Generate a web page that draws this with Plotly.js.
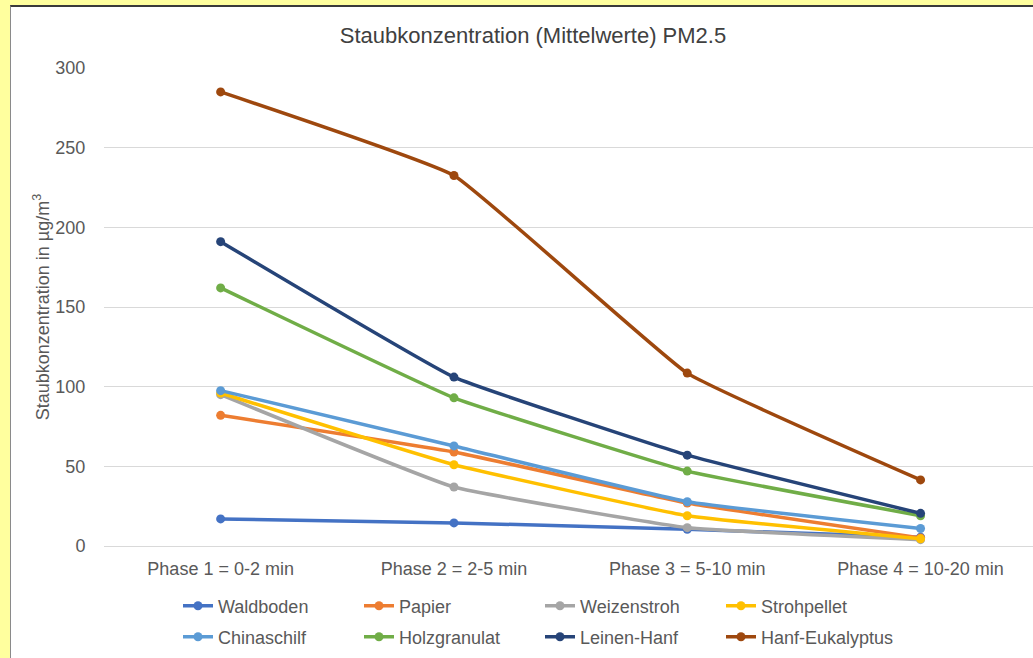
<!DOCTYPE html>
<html>
<head>
<meta charset="utf-8">
<script src="https://cdn.plot.ly/plotly-3.0.1.min.js"></script>
<style>
  html, body { margin: 0; padding: 0; width: 1033px; height: 658px; overflow: hidden; background: #FFFF9E; }
  #frame { position: absolute; left: 10px; top: 5px; width: 1023px; height: 653px; background: #ffffff;
           border-left: 1px solid #8a8a8a; border-top: 2px solid #3a3a3a; box-sizing: border-box; }
  #chart { position: absolute; left: 0; top: 0; width: 1033px; height: 658px; }
</style>
</head>
<body>
<div id="frame"></div>
<div id="chart"></div>
<script>
const phases = ["Phase 1 = 0-2 min", "Phase 2 = 2-5 min", "Phase 3 = 5-10 min", "Phase 4 = 10-20 min"];

const waldboden      = [17, 14.5, 10.5, 5.5];
const papier         = [82, 59, 27, 5];
const weizenstroh    = [95, 37, 11.5, 4];
const strohpellet    = [96, 51, 19, 4.5];
const chinaschilf    = [97.5, 62.8, 27.8, 11];
const holzgranulat   = [162, 93, 47, 19];
const leinenHanf     = [191, 106, 57, 20.5];
const hanfEukalyptus = [285, 232.5, 108.5, 41.5];

const seriesNames = ["Waldboden", "Papier", "Weizenstroh", "Strohpellet",
                     "Chinaschilf", "Holzgranulat", "Leinen-Hanf", "Hanf-Eukalyptus"];
const seriesValues = [waldboden, papier, weizenstroh, strohpellet,
                      chinaschilf, holzgranulat, leinenHanf, hanfEukalyptus];
const seriesColors = ["#4472C4", "#ED7D31", "#A5A5A5", "#FFC000",
                      "#5B9BD5", "#70AD47", "#264478", "#9E480E"];

const traces = seriesNames.map((name, i) => ({
  type: "scatter",
  mode: "lines+markers",
  name: name,
  x: phases,
  y: seriesValues[i],
  line: { color: seriesColors[i], width: 3.5, shape: "spline", smoothing: 0.3 },
  marker: { color: seriesColors[i], size: 9 },
  legend: i < 4 ? "legend" : "legend2",
  hoverinfo: "name+y"
}));

const fontFam = "Liberation Sans, Arial, sans-serif";
const legendCommon = {
  orientation: "h",
  xref: "container", yref: "container",
  x: 178 / 1033, xanchor: "left",
  yanchor: "middle",
  entrywidth: 136, entrywidthmode: "pixels",
  font: { family: fontFam, size: 18, color: "#595959" },
  bgcolor: "rgba(0,0,0,0)",
  borderwidth: 0,
  traceorder: "normal"
};

const layout = {
  width: 1033, height: 658,
  paper_bgcolor: "rgba(0,0,0,0)",
  plot_bgcolor: "rgba(0,0,0,0)",
  margin: { l: 104, r: 0, t: 68, b: 112 },
  font: { family: fontFam, color: "#595959" },
  title: {
    text: "Staubkonzentration (Mittelwerte) PM2.5",
    font: { family: fontFam, size: 22, color: "#404040" },
    xref: "container", yref: "container",
    x: 533 / 1033, xanchor: "center",
    y: 1 - 35 / 658, yanchor: "middle"
  },
  xaxis: {
    type: "category",
    range: [-0.5, 3.482],
    showgrid: false,
    zeroline: false,
    showline: false,
    ticks: "outside", ticklen: 6, tickcolor: "rgba(0,0,0,0)",
    tickfont: { family: fontFam, size: 18, color: "#595959" },
    fixedrange: true
  },
  yaxis: {
    range: [0, 300],
    tickvals: [0, 50, 100, 150, 200, 250, 300],
    showgrid: true, gridcolor: "#D9D9D9", gridwidth: 1,
    zeroline: true, zerolinecolor: "#D9D9D9", zerolinewidth: 1,
    showline: false,
    ticks: "outside", ticklen: 14, tickcolor: "rgba(0,0,0,0)",
    tickfont: { family: fontFam, size: 18, color: "#595959" },
    title: {
      text: "Staubkonzentration in µg/m<sup>3</sup>",
      font: { family: fontFam, size: 18, color: "#595959" },
      standoff: 1
    },
    fixedrange: true
  },
  showlegend: true,
  legend: Object.assign({}, legendCommon, { y: 1 - 606 / 658 }),
  legend2: Object.assign({}, legendCommon, { y: 1 - 637 / 658 })
};

Plotly.newPlot("chart", traces, layout, { displayModeBar: false, staticPlot: true });
</script>
</body>
</html>
